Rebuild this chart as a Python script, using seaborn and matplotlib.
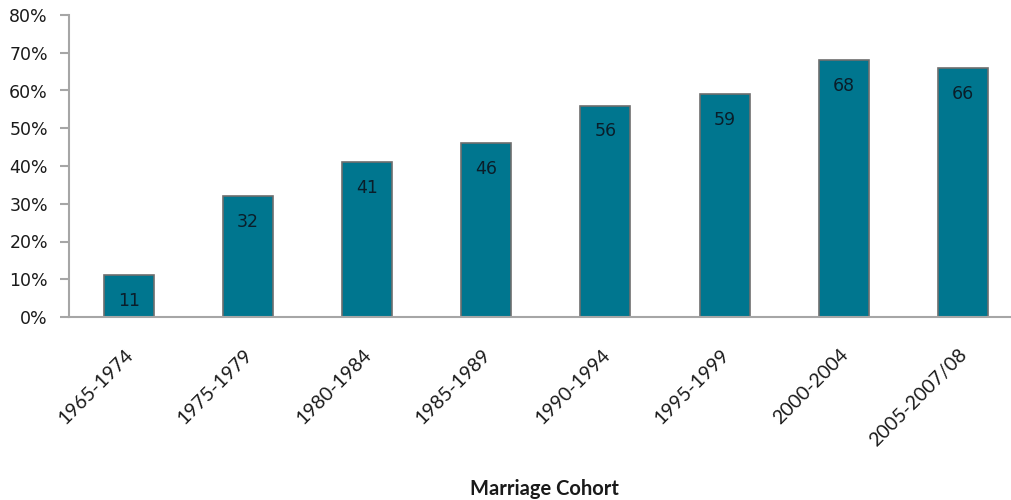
import matplotlib
matplotlib.use("Agg")
import matplotlib.pyplot as plt
import seaborn as sns
import pandas as pd
from matplotlib.ticker import FuncFormatter
from matplotlib.transforms import ScaledTranslation

cohorts = ["1965-1974", "1975-1979", "1980-1984", "1985-1989",
           "1990-1994", "1995-1999", "2000-2004", "2005-2007/08"]
percent = [11, 32, 41, 46, 56, 59, 68, 66]
y_ticks = [0, 10, 20, 30, 40, 50, 60, 70, 80]

df = pd.DataFrame({"cohort": cohorts, "pct": percent})

sns.set_theme(style="white")
plt.rcParams["font.family"] = ["DejaVu Sans"]

fig = plt.figure(figsize=(10.11, 5.0), dpi=100)
ax = fig.add_axes([0.0687, 0.366, 0.9313, 0.604])

bar_color = "#00768F"
sns.barplot(data=df, x="cohort", y="pct", color=bar_color, width=0.42,
            edgecolor="#6E6E6E", linewidth=1.2, saturation=1, ax=ax)

for i, v in enumerate(percent):
    ax.annotate(f"{v}", xy=(i, v), xytext=(0, -18.5), textcoords="offset points",
                ha="center", va="center", fontsize=12.5, color="#0A1E2A",
                annotation_clip=False)

ax.set_ylim(0, 80)
ax.set_yticks(y_ticks)
ax.yaxis.set_major_formatter(FuncFormatter(lambda v, p: f"{int(v)}%"))
ax.set_xlim(-0.5, 7.405)

for s in ["top", "right"]:
    ax.spines[s].set_visible(False)
for s in ["left", "bottom"]:
    ax.spines[s].set_color("#A6A6A6")
    ax.spines[s].set_linewidth(1.5)

ax.tick_params(axis="y", left=True, length=6.5, width=1.5, color="#A6A6A6",
               labelsize=12.5, labelcolor="#1A1A1A", pad=9)
ax.tick_params(axis="x", bottom=False, labelsize=14, labelcolor="#1A1A1A", pad=2)

for lbl in ax.get_xticklabels():
    lbl.set_rotation(45)
    lbl.set_ha("right")
    lbl.set_va("top")
    lbl.set_rotation_mode("anchor")
    lbl.set_family(["Lato", "DejaVu Sans"])
    lbl.set_transform(lbl.get_transform() + ScaledTranslation(-3/72, -13/72, fig.dpi_scale_trans))

ax.set_xlabel("Marriage Cohort", fontsize=14.5, fontweight="bold",
              family=["Lato", "DejaVu Sans"], color="#1A1A1A")
ax.xaxis.set_label_coords(0.505, -0.535)
ax.set_ylabel("")

fig.savefig("out.png", dpi=100, facecolor="white")
